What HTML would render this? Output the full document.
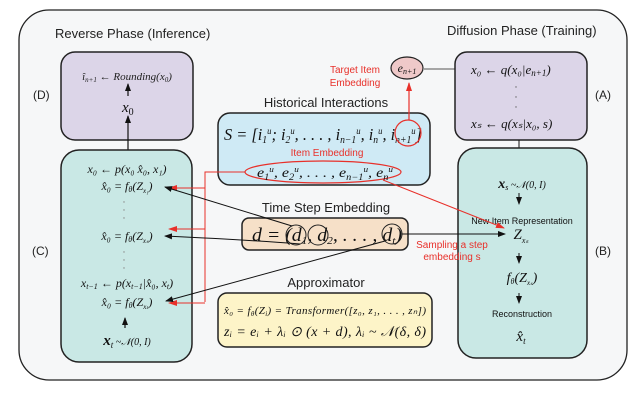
<!DOCTYPE html>
<html><head><meta charset="utf-8"><style>
html,body{margin:0;padding:0;background:#fff;}
svg{display:block}
.s{font-family:"Liberation Sans",sans-serif;}
.m{font-family:"Liberation Serif",serif;font-style:italic;}
.r{font-family:"Liberation Serif",serif;}
</style></head><body>
<svg width="640" height="405" viewBox="0 0 640 405" xmlns="http://www.w3.org/2000/svg">
<defs>
<marker id="ab" markerWidth="8" markerHeight="8" refX="7" refY="4" orient="auto" markerUnits="userSpaceOnUse"><path d="M0,1 L8,4 L0,7 z" fill="#111"/></marker>
<marker id="ar" markerWidth="9" markerHeight="8" refX="8" refY="4" orient="auto" markerUnits="userSpaceOnUse"><path d="M0,1 L9,4 L0,7 z" fill="#e8302a"/></marker>
</defs>
<rect x="19" y="10" width="608" height="370" rx="30" fill="#f6f7f8" stroke="#222" stroke-width="1.3"/>
<text class="s" x="55" y="38" font-size="13" fill="#222">Reverse Phase (Inference)</text>
<text class="s" x="447" y="35" font-size="13" fill="#222">Diffusion Phase (Training)</text>
<text class="s" x="33" y="99" font-size="12" fill="#222">(D)</text>
<text class="s" x="32" y="255" font-size="12" fill="#222">(C)</text>
<text class="s" x="595" y="99" font-size="12" fill="#222">(A)</text>
<text class="s" x="595" y="255" font-size="12" fill="#222">(B)</text>

<!-- D box -->
<rect x="61" y="52" width="132" height="88" rx="14" fill="#dcd5e8" stroke="#222" stroke-width="1.5"/>
<text class="m" x="127" y="80" font-size="11" text-anchor="middle" fill="#222">î<tspan font-size="7" dy="2">n+1</tspan><tspan dy="-2"> ← Rounding(x</tspan><tspan font-size="7" dy="2">0</tspan><tspan dy="-2">)</tspan></text>
<line x1="128" y1="96" x2="128" y2="84" stroke="#111" stroke-width="1.2" marker-end="url(#ab)"/>
<text class="m" x="122" y="112" font-size="15" fill="#111">x<tspan font-size="10" dy="3" font-style="normal">0</tspan></text>
<line x1="128" y1="150" x2="128" y2="116" stroke="#111" stroke-width="1.2" marker-end="url(#ab)"/>

<!-- C box -->
<rect x="61" y="150" width="131" height="212" rx="18" fill="#c9e8e5" stroke="#222" stroke-width="1.5"/>
<g class="m" font-size="12" fill="#111" text-anchor="middle">
<text x="127" y="173">x₀ ← p(x₀ x̂₀, x₁)</text>
<text x="127" y="190">x̂₀ = f<tspan font-size="8" dy="2">θ</tspan><tspan dy="-2">(Z</tspan><tspan font-size="7" dy="3">x₁</tspan><tspan dy="-3">)</tspan></text>
<text x="127" y="240">x̂₀ = f<tspan font-size="8" dy="2">θ</tspan><tspan dy="-2">(Z</tspan><tspan font-size="7" dy="3">xₛ</tspan><tspan dy="-3">)</tspan></text>
<text x="127" y="287">x<tspan font-size="8" dy="2">t−1</tspan><tspan dy="-2"> ← p(x</tspan><tspan font-size="8" dy="2">t−1</tspan><tspan dy="-2">|x̂₀, x</tspan><tspan font-size="8" dy="2">t</tspan><tspan dy="-2">)</tspan></text>
<text x="127" y="306">x̂₀ = f<tspan font-size="8" dy="2">θ</tspan><tspan dy="-2">(Z</tspan><tspan font-size="7" dy="3">xₜ</tspan><tspan dy="-3">)</tspan></text>
<text x="127" y="345"><tspan font-size="15" font-weight="bold">x</tspan><tspan font-size="9" dy="3">t</tspan><tspan dy="-3" font-size="10">  ~𝒩(0, I)</tspan></text>
</g>
<g fill="#888"><circle cx="124" cy="202" r="0.7"/><circle cx="124" cy="210" r="0.7"/><circle cx="124" cy="218" r="0.7"/><circle cx="124" cy="252" r="0.7"/><circle cx="124" cy="260" r="0.7"/><circle cx="124" cy="268" r="0.7"/></g>
<line x1="125" y1="328" x2="125" y2="318" stroke="#111" stroke-width="1.2" marker-end="url(#ab)"/>

<!-- Historical -->
<text class="s" x="326" y="107" font-size="13" text-anchor="middle" fill="#222">Historical Interactions</text>
<rect x="218" y="113" width="212" height="72" rx="12" fill="#cfeaf5" stroke="#222" stroke-width="1.5"/>
<text class="m" x="224" y="140" font-size="17" fill="#111" textLength="198" lengthAdjust="spacingAndGlyphs">S = [i<tspan font-size="10" dy="3">1</tspan><tspan font-size="9" dy="-9">u</tspan><tspan dy="6">; i</tspan><tspan font-size="10" dy="3">2</tspan><tspan font-size="9" dy="-9">u</tspan><tspan dy="6">, . . . , i</tspan><tspan font-size="10" dy="3">n−1</tspan><tspan font-size="9" dy="-9">u</tspan><tspan dy="6">, i</tspan><tspan font-size="10" dy="3">n</tspan><tspan font-size="9" dy="-9">u</tspan><tspan dy="6">, i</tspan><tspan font-size="10" dy="3">n+1</tspan><tspan font-size="9" dy="-9">u</tspan><tspan dy="6">]</tspan></text>
<circle cx="408" cy="133" r="13" fill="none" stroke="#e8302a" stroke-width="1.2"/>
<text class="s" x="327" y="156" font-size="10" text-anchor="middle" fill="#e8302a">Item Embedding</text>
<ellipse cx="323" cy="172" rx="78" ry="11" fill="none" stroke="#e8302a" stroke-width="1.2"/>
<text class="m" x="257" y="177" font-size="14" fill="#111" textLength="136" lengthAdjust="spacingAndGlyphs">e<tspan font-size="9" dy="3">1</tspan><tspan font-size="8" dy="-8">u</tspan><tspan dy="5">, e</tspan><tspan font-size="9" dy="3">2</tspan><tspan font-size="8" dy="-8">u</tspan><tspan dy="5">, . . . , e</tspan><tspan font-size="9" dy="3">n−1</tspan><tspan font-size="8" dy="-8">u</tspan><tspan dy="5">, e</tspan><tspan font-size="9" dy="3">n</tspan><tspan font-size="8" dy="-8">u</tspan></text>

<!-- target -->
<text class="s" x="355" y="73" font-size="10" text-anchor="middle" fill="#e8302a">Target Item</text>
<text class="s" x="355" y="86" font-size="10" text-anchor="middle" fill="#e8302a">Embedding</text>
<ellipse cx="407" cy="68" rx="16" ry="11" fill="#efc9c9" stroke="#222" stroke-width="1.2"/>
<text class="m" x="407" y="72" font-size="12" text-anchor="middle" fill="#111">e<tspan font-size="8" dy="2">n+1</tspan></text>
<line x1="409" y1="120" x2="409" y2="83" stroke="#e8302a" stroke-width="1.2" marker-end="url(#ar)"/>
<line x1="424" y1="69" x2="470" y2="69" stroke="#555" stroke-width="1" marker-end="url(#ab)"/>

<!-- A box -->
<rect x="455" y="52" width="132" height="88" rx="12" fill="#dcd5e8" stroke="#222" stroke-width="1.5"/>
<text class="m" x="471" y="74" font-size="13" fill="#111">x₀ ← q(x₀|e<tspan font-size="9" dy="2">n+1</tspan><tspan dy="-2">)</tspan></text>
<g fill="#666"><circle cx="516" cy="87" r="0.7"/><circle cx="516" cy="97" r="0.7"/><circle cx="516" cy="107" r="0.7"/></g>
<text class="m" x="471" y="128" font-size="13" fill="#111">xₛ ← q(xₛ|x₀, s)</text>
<line x1="519" y1="140" x2="519" y2="176" stroke="#111" stroke-width="1" marker-end="url(#ab)"/>

<!-- B box -->
<rect x="458" y="148" width="129" height="210" rx="18" fill="#c9e8e5" stroke="#222" stroke-width="1.5"/>
<text class="m" x="522" y="188" font-size="12" text-anchor="middle" fill="#111"><tspan font-size="14" font-weight="bold">x</tspan><tspan font-size="8" dy="2">s</tspan><tspan dy="-2" font-size="10">  ~𝒩(0, I)</tspan></text>
<line x1="519" y1="193" x2="519" y2="204" stroke="#111" stroke-width="1" marker-end="url(#ab)"/>
<text class="s" x="522" y="224" font-size="9" text-anchor="middle" fill="#111">New Item Representation</text>
<text class="m" x="521" y="239" font-size="15" text-anchor="middle" fill="#111">Z<tspan font-size="8" dy="4">xₛ</tspan></text>
<line x1="519" y1="253" x2="519" y2="263" stroke="#111" stroke-width="1" marker-end="url(#ab)"/>
<text class="m" x="522" y="282" font-size="14" text-anchor="middle" fill="#111">f<tspan font-size="8" dy="2">θ</tspan><tspan dy="-2">(Z</tspan><tspan font-size="7" dy="3">xₛ</tspan><tspan dy="-3">)</tspan></text>
<line x1="519" y1="293" x2="519" y2="303" stroke="#111" stroke-width="1" marker-end="url(#ab)"/>
<text class="s" x="522" y="317" font-size="9" text-anchor="middle" fill="#111">Reconstruction</text>
<text class="m" x="521" y="341" font-size="15" text-anchor="middle" fill="#111">x̂<tspan font-size="9" dy="3">t</tspan></text>

<!-- Time step -->
<text class="s" x="326" y="212" font-size="13" text-anchor="middle" fill="#222">Time Step Embedding</text>
<rect x="242" y="218" width="166" height="32" rx="7" fill="#f6e0c8" stroke="#222" stroke-width="1.5"/>
<text class="m" x="252" y="241" font-size="19" fill="#111" textLength="150" lengthAdjust="spacingAndGlyphs">d = (d<tspan font-size="11" dy="3">1</tspan><tspan dy="-3">, d</tspan><tspan font-size="11" dy="3">2</tspan><tspan dy="-3">, . . . , d</tspan><tspan font-size="11" dy="3">t</tspan><tspan dy="-3">)</tspan></text>
<circle cx="296" cy="235" r="10" fill="none" stroke="#222" stroke-width="1"/>
<circle cx="318" cy="235" r="10" fill="none" stroke="#222" stroke-width="1"/>
<circle cx="392" cy="234" r="10" fill="none" stroke="#222" stroke-width="1"/>

<!-- Approximator -->
<text class="s" x="326" y="287" font-size="13" text-anchor="middle" fill="#222">Approximator</text>
<rect x="218" y="293" width="214" height="54" rx="9" fill="#fdf4c8" stroke="#222" stroke-width="1.5"/>
<text class="m" x="224" y="314" font-size="11" fill="#111" textLength="202">x̂₀ = f<tspan font-size="7" dy="2">θ</tspan><tspan dy="-2">(Z</tspan><tspan font-size="7" dy="2">i</tspan><tspan dy="-2">) = Transformer([z₀, z₁, . . . , zₙ])</tspan></text>
<text class="m" x="224" y="336" font-size="14" fill="#111" textLength="202">zᵢ = eᵢ + λᵢ ⊙ (x + d), λᵢ ~ 𝒩(δ, δ)</text>

<!-- red connectors -->
<polyline points="245,172 205,172 205,302" fill="none" stroke="#e8302a" stroke-width="1"/>
<line x1="205" y1="188" x2="169" y2="188" stroke="#e8302a" stroke-width="1" marker-end="url(#ar)"/>
<line x1="205" y1="229" x2="169" y2="229" stroke="#e8302a" stroke-width="1" marker-end="url(#ar)"/>
<line x1="205" y1="303" x2="169" y2="303" stroke="#e8302a" stroke-width="1" marker-end="url(#ar)"/>
<line x1="383" y1="180" x2="504" y2="228" stroke="#e8302a" stroke-width="1" marker-end="url(#ar)"/>
<text class="s" x="452" y="248" font-size="10" text-anchor="middle" fill="#e8302a">Sampling a step</text>
<text class="s" x="452" y="260" font-size="10" text-anchor="middle" fill="#e8302a">embedding s</text>

<!-- black connectors -->
<line x1="292" y1="226" x2="165" y2="187" stroke="#111" stroke-width="1" marker-end="url(#ab)"/>
<path d="M300,244 Q250,240 165,236" fill="none" stroke="#111" stroke-width="1" marker-end="url(#ab)"/>
<line x1="385" y1="241" x2="166" y2="301" stroke="#111" stroke-width="1" marker-end="url(#ab)"/>
<line x1="402" y1="234" x2="505" y2="234" stroke="#111" stroke-width="1" marker-end="url(#ab)"/>
</svg>
</body></html>
